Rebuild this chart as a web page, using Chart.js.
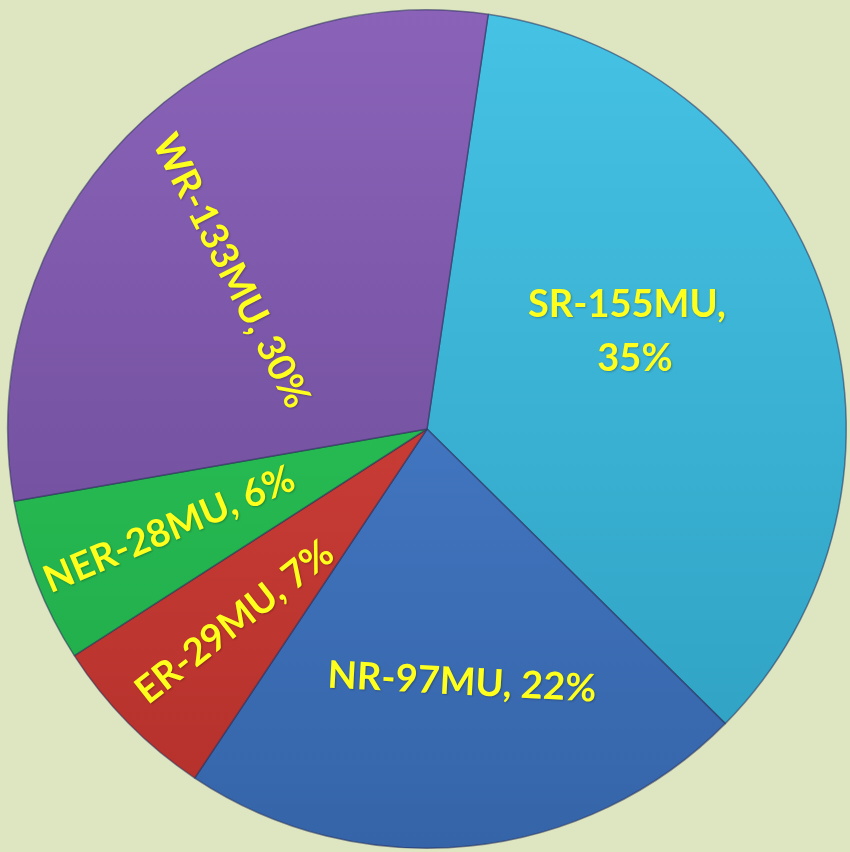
<!DOCTYPE html>
<html>
<head>
<meta charset="utf-8">
<script src="https://cdn.jsdelivr.net/npm/chart.js@4"></script>
<style>
  html, body { margin: 0; padding: 0; background: #dde6c1; }
  #wrap { width: 850px; height: 852px; }
</style>
</head>
<body>
<div id="wrap"><canvas id="pieChart"></canvas></div>
<script>
// Data
const regions = ['SR', 'NR', 'ER', 'NER', 'WR'];
const energyMU = [155, 97, 29, 28, 133];

// slice colours (top / bottom of the gradient)
const topColors = ['#45c2e4', '#4d86d6', '#dc473f', '#2ecb5c', '#8a63b8'];
const bottomColors = ['#2e9fc0', '#3564a8', '#b3302b', '#1fa848', '#674692'];

// label placement per slice: radius fraction, angle offset (deg), rotation (deg)
const labelPos = [
  { r: 0.53, off: -7.4, rot: 0 },
  { r: 0.61, off: -2, rot: 3 },
  { r: 0.65, off: -0.6, rot: -38 },
  { r: 0.66, off: 0, rot: -23 },
  { r: 0.60, off: -5.4, rot: 63 }
];

const total = energyMU.reduce((a, b) => a + b, 0);
const pct = energyMU.map(v => Math.round(v / total * 100));

function sliceGradient(context) {
  const chart = context.chart;
  const area = chart.chartArea;
  const i = context.dataIndex;
  if (!area) return topColors[i];
  const g = chart.ctx.createLinearGradient(0, area.top, 0, area.bottom);
  g.addColorStop(0, topColors[i]);
  g.addColorStop(1, bottomColors[i]);
  return g;
}

// draws the yellow labels inside the slices
const sliceLabels = {
  id: 'sliceLabels',
  afterDatasetsDraw(chart) {
    const ctx = chart.ctx;
    const meta = chart.getDatasetMeta(0);
    meta.data.forEach((arc, i) => {
      const p = arc.getProps(['x', 'y', 'startAngle', 'endAngle', 'outerRadius'], true);
      const lp = labelPos[i];
      const mid = (p.startAngle + p.endAngle) / 2 + lp.off * Math.PI / 180;
      const x = p.x + Math.cos(mid) * p.outerRadius * lp.r;
      const y = p.y + Math.sin(mid) * p.outerRadius * lp.r;
      const lines = i === 0
        ? [regions[i] + '-' + energyMU[i] + 'MU,', pct[i] + '%']
        : [regions[i] + '-' + energyMU[i] + 'MU, ' + pct[i] + '%'];
      ctx.save();
      ctx.translate(x, y);
      ctx.rotate(lp.rot * Math.PI / 180);
      ctx.font = 'bold 38px Lato';
      ctx.fillStyle = '#ffff1e';
      ctx.textAlign = 'center';
      ctx.textBaseline = 'middle';
      ctx.shadowColor = 'rgba(0,0,0,0.25)';
      ctx.shadowBlur = 2;
      ctx.shadowOffsetX = 1;
      ctx.shadowOffsetY = 1;
      const lh = 54;
      lines.forEach((t, k) => {
        ctx.fillText(t, k === 1 ? 8 : 0, (k - (lines.length - 1) / 2) * lh);
      });
      ctx.restore();
    });
  }
};

const ctx = document.getElementById('pieChart').getContext('2d');
const pieChart = new Chart(ctx, {
  type: 'pie',
  data: {
    labels: regions,
    datasets: [{
      data: energyMU,
      backgroundColor: sliceGradient,
      borderColor: 'rgba(40,45,90,0.55)',
      borderWidth: 1.5
    }]
  },
  options: {
    responsive: true,
    maintainAspectRatio: false,
    animation: false,
    rotation: 8.4,
    layout: { padding: { left: 6, right: 2, top: 9, bottom: 3 } },
    plugins: {
      legend: { display: false },
      tooltip: { enabled: false }
    }
  },
  plugins: [sliceLabels]
});
</script>
</body>
</html>
